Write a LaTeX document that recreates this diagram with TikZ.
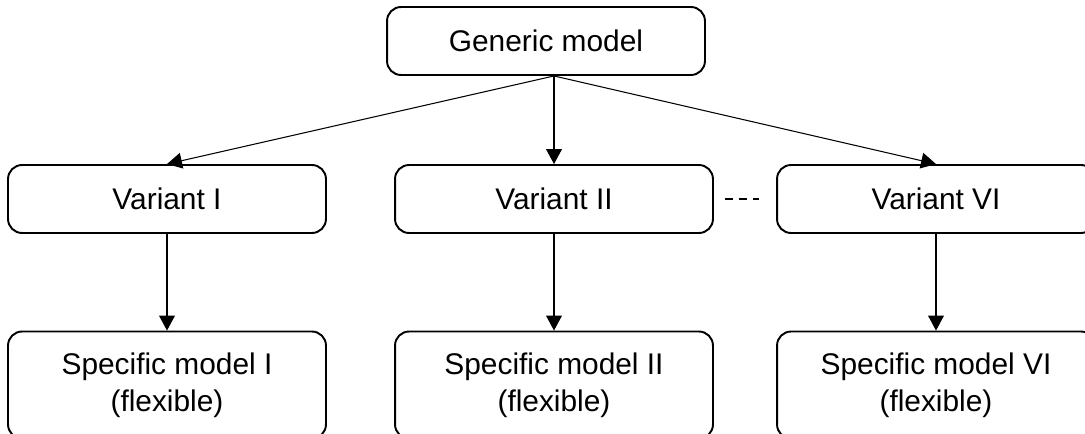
\documentclass[tikz,border=0pt]{standalone}
\usepackage{fontspec}
\setmainfont{Liberation Sans}
\usetikzlibrary{arrows.meta,positioning}

\begin{document}
\begin{tikzpicture}[x=0.02cm,y=-0.02cm,>={Triangle[length=8.5pt,width=9pt]},
                box/.style={draw,rounded corners=8pt,line width=1.1pt,minimum width=6.36cm,
                  minimum height=1.36cm,font=\fontsize{17pt}{21pt}\selectfont,align=center},
                tall box/.style={box,minimum height=2.14cm},
                link/.style={->,line width=0.6pt}]
  \useasboundingbox (0,0) rectangle (1085,433);
  \clip (0,0) rectangle (1085,433);

  \node[box] (gen) at (546,41) {Generic model};
  \node[box] (v1) at (167,199) {Variant I};
  \node[box] (v2) at (554,199) {Variant II};
  \node[box] (v6) at (936,199) {Variant VI};
  \node[tall box] (s1) at (167,385) {Specific model I\\(flexible)};
  \node[tall box] (s2) at (554,385) {Specific model II\\(flexible)};
  \node[tall box] (s6) at (936,385) {Specific model VI\\(flexible)};

  \coordinate (fork) at (gen.south -| v2.north);

  \draw[link] (fork) -- (v1.north);
  \draw[link] (fork) -- (v2.north);
  \draw[link] (fork) -- (v6.north);
  \draw[link] (v1) -- (s1);
  \draw[link] (v2) -- (s2);
  \draw[link] (v6) -- (s6);
  \draw[line width=1.1pt,dash pattern=on 4.5pt off 3.4pt,shorten <=6.2pt,shorten >=10pt] (v2) -- (v6);
\end{tikzpicture}
\end{document}
